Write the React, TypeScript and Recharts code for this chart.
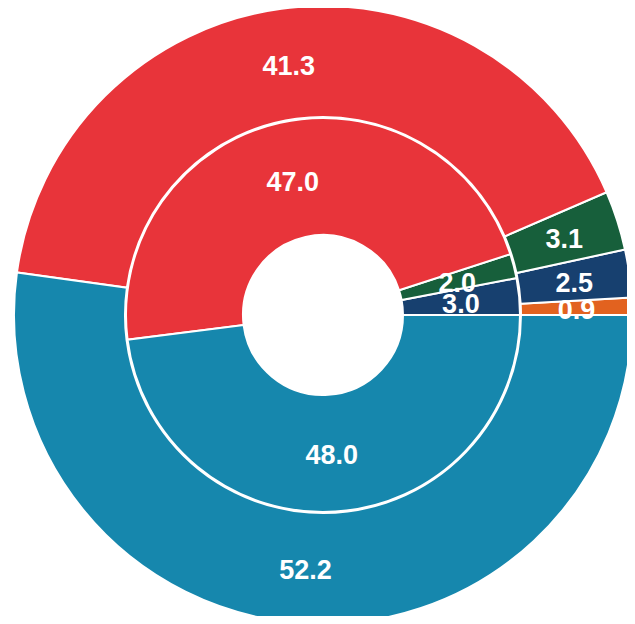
import { Cell, Pie, PieChart } from 'recharts';

// outer ring, counter-clockwise from 3 o'clock
const outerNames = ['Orange', 'Navy', 'Green', 'Red', 'Teal'];
const outerValues = [0.9, 2.5, 3.1, 41.3, 52.2];
const outerColors = ['#e2621f', '#17406f', '#175f3b', '#e8343a', '#1687ad'];

// inner ring
const innerNames = ['Navy', 'Green', 'Red', 'Teal'];
const innerValues = [3.0, 2.0, 47.0, 48.0];
const innerColors = ['#17406f', '#175f3b', '#e8343a', '#1687ad'];

const outerData = outerNames.map((name, i) => ({ name, value: outerValues[i] }));
const innerData = innerNames.map((name, i) => ({ name, value: innerValues[i] }));

const RAD = Math.PI / 180;

function renderLabel(props: any) {
  const { cx, cy, midAngle, innerRadius, outerRadius, value } = props;
  const r = (innerRadius + outerRadius) / 2;
  const x = cx + r * Math.cos(-midAngle * RAD);
  const y = cy + r * Math.sin(-midAngle * RAD) + 2;
  return (
    <text
      x={x}
      y={y}
      fill="#fff"
      textAnchor="middle"
      dominantBaseline="central"
      fontFamily="'Liberation Sans', Arial, sans-serif"
      fontWeight="bold"
      fontSize={27}
    >
      {Number(value).toFixed(1)}
    </text>
  );
}

export default function App() {
  return (
    <div style={{ margin: -8, background: '#fff' }}>
      <PieChart width={635} height={624} margin={{ top: 0, right: 0, bottom: 0, left: 0 }}>
        <Pie
          data={innerData}
          dataKey="value"
          cx={323}
          cy={315}
          innerRadius={80}
          outerRadius={197}
          startAngle={0}
          endAngle={360}
          stroke="#fff"
          strokeWidth={2}
          label={renderLabel}
          labelLine={false}
          isAnimationActive={false}
        >
          {innerData.map((d, i) => (
            <Cell key={d.name} fill={innerColors[i]} />
          ))}
        </Pie>
        <Pie
          data={outerData}
          dataKey="value"
          cx={323}
          cy={315}
          innerRadius={198}
          outerRadius={309}
          startAngle={0}
          endAngle={360}
          stroke="#fff"
          strokeWidth={2}
          label={renderLabel}
          labelLine={false}
          isAnimationActive={false}
        >
          {outerData.map((d, i) => (
            <Cell key={d.name} fill={outerColors[i]} />
          ))}
        </Pie>
      </PieChart>
    </div>
  );
}
